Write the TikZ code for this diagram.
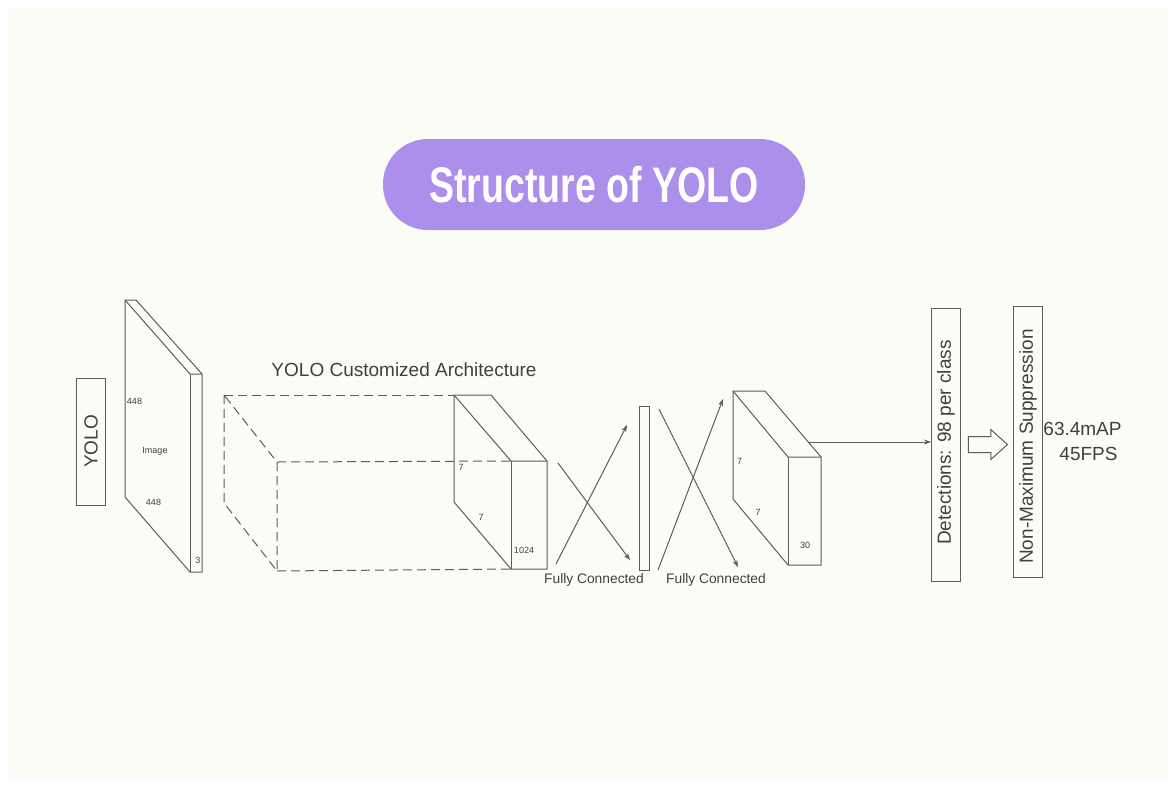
\documentclass[tikz,border=0pt]{standalone}
\usepackage{fontspec}
\setmainfont{Liberation Sans}
\newfontfamily\titlefont[FakeStretch=0.75]{Liberation Sans Bold}
\usetikzlibrary{calc}
\usetikzlibrary{positioning}
\usetikzlibrary{arrows.meta}
\usetikzlibrary{shapes.arrows}
\definecolor{paper}{HTML}{FCFCF6}
\definecolor{pill}{HTML}{AC8FEB}
\definecolor{ink}{HTML}{5C5C5C}
\definecolor{inktext}{HTML}{404040}

\begin{document}
\begin{tikzpicture}[x=1pt, y=-1pt, line width=1pt, ink,
	      bigtext/.style={text=inktext, inner sep=0pt, font=\fontsize{19}{23}\selectfont},
	      midtext/.style={text=inktext, inner sep=0pt, font=\fontsize{13.8}{16}\selectfont},
	      smalltext/.style={text=inktext, inner sep=0pt, font=\fontsize{9}{11}\selectfont},
	      bar/.style={draw, inner sep=0pt, rotate=90, minimum width=#1, minimum height=29pt},
	      link/.style={-{Stealth[length=7pt, width=5pt]}},
	      hidden/.style={dashed, dash pattern=on 9pt off 5pt}]
\fill[white] (0,0) rectangle (1175,785);
\fill[paper] (8,8) rectangle (1167,778);
\useasboundingbox (0,0) rectangle (1175,785);

\node [fill=pill, text=white, rounded corners=45pt, minimum width=422pt, minimum height=91pt,
       inner sep=0pt, font=\titlefont\fontsize{50}{58}\selectfont] (title) at (594,184.5) {Structure of YOLO};

\node [bar=127pt, bigtext] (yolo) at (91,441.5) {YOLO};
\node [bar=273pt, bigtext] (detect) at (946,444.5) {\hspace*{4pt}Detections: 98 per class};
\node [bar=271pt, bigtext] (nms) at (1028,441.5) {Non-Maximum Suppression\hspace*{10pt}};
\node [draw, inner sep=0pt, minimum width=10pt, minimum height=164pt] (fc) at (644,488) {};

% input slab
\coordinate (in a) at (125,300);
\coordinate (in b) at (136,300);
\coordinate (in c) at (190,374);
\coordinate (in d) at (202,374);
\coordinate (in e) at (202,572);
\coordinate (in f) at (190,572);
\coordinate (in g) at (125,497);
\draw (in a) -- (in b) -- (in d) -- (in e) -- (in f) -- (in g) -- cycle;
\draw (in a) -- (in c) -- (in d);
\draw (in c) -- (in f);

% dashed volume
\coordinate (vol a) at (224,395);
\coordinate (vol b) at (224,503);
\coordinate (vol c) at (277,462);
\coordinate (vol d) at (277,571);
\draw[hidden] (vol a) -- (vol b) -- (vol d) -- (vol c) -- cycle;

% first block
\coordinate (one a) at (454,395);
\coordinate (one b) at (491,395);
\coordinate (one c) at (511,461);
\coordinate (one d) at (547,461);
\coordinate (one e) at (547,569);
\coordinate (one f) at (511,569);
\coordinate (one g) at (454,502);
\draw[hidden] (vol a) -- (one a);
\draw[hidden] (vol c) -- (one c);
\draw[hidden] (vol d) -- (one f);
\draw (one a) -- (one b) -- (one d) -- (one e) -- (one f) -- (one g) -- cycle;
\draw (one a) -- (one c) -- (one d);
\draw (one c) -- (one f);

% second block
\coordinate (two a) at (733,391);
\coordinate (two b) at (765,391);
\coordinate (two c) at (788,457);
\coordinate (two d) at (821,457);
\coordinate (two e) at (821,565);
\coordinate (two f) at (788,565);
\coordinate (two g) at (733,499);
\draw (two a) -- (two b) -- (two d) -- (two e) -- (two f) -- (two g) -- cycle;
\draw (two a) -- (two c) -- (two d);
\draw (two c) -- (two f);

% crossing links
\coordinate (x1 a) at (558,463);
\coordinate (x1 b) at (630,560);
\coordinate (x1 c) at (556,564);
\coordinate (x1 d) at (627,425);
\coordinate (x2 a) at (659,409);
\coordinate (x2 b) at (738,567);
\coordinate (x2 c) at (658,570);
\coordinate (x2 d) at (723,399);
\draw[link] (x1 a) -- (x1 b);
\draw[link] (x1 c) -- (x1 d);
\draw[link] (x2 a) -- (x2 b);
\draw[link] (x2 c) -- (x2 d);

\coordinate (out) at (808,442);
\draw[link] (out) -- (out -| detect.north);

\node [draw, single arrow, inner xsep=0pt, inner ysep=7.5pt, minimum height=39pt,
       single arrow head extend=7pt, single arrow tip angle=84] (next) at (983.5,444.5) {};

% labels
\node [bigtext] (arch) at (404,370) {YOLO Customized Architecture};
\node [bigtext] (map) at (1082.5,428.5) {63.4mAP};
\node [bigtext] (fps) at (1088.5,454) {45FPS};
\node [midtext] (fc one) at (594,580) {Fully Connected};
\node [midtext] (fc two) at (716,580) {Fully Connected};
\node [smalltext] (in h) at (134.5,401) {448};
\node [smalltext] (in name) at (155,451) {Image};
\node [smalltext] (in w) at (153.5,502) {448};
\node [smalltext] (in n) at (198,560) {3};
\node [smalltext] (one h) at (461,467) {7};
\node [smalltext] (one w) at (481,517) {7};
\node [smalltext] (one n) at (524,550) {1024};
\node [smalltext] (two h) at (739.5,461) {7};
\node [smalltext] (two w) at (758,512) {7};
\node [smalltext] (two n) at (805,545) {30};
\end{tikzpicture}
\end{document}
